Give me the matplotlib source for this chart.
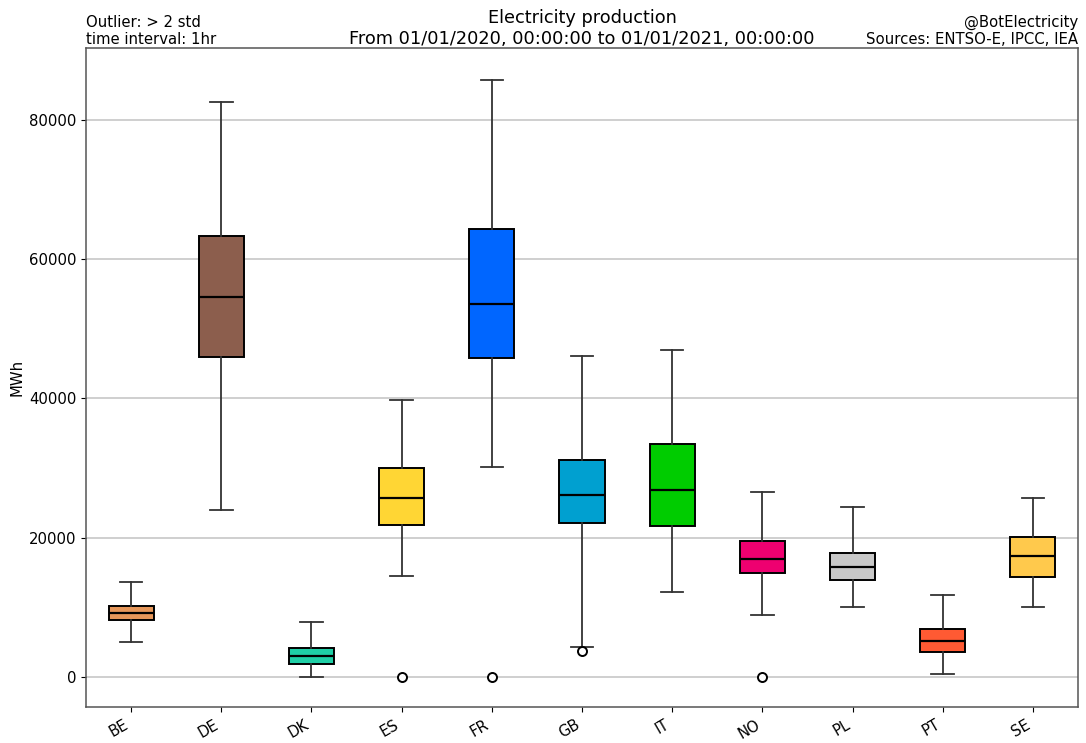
import matplotlib
matplotlib.use("Agg")
import matplotlib.pyplot as plt
import numpy as np

countries = ["BE", "DE", "DK", "ES", "FR", "GB", "IT", "NO", "PL", "PT", "SE"]
whislo = [5000, 24000, 0, 14500, 30100, 4350, 12250, 8950, 10100, 500, 10100]
q1 = [8150, 46000, 1900, 21800, 45800, 22100, 21750, 14950, 13900, 3650, 14400]
med = [9250, 54600, 2970, 25700, 53550, 26200, 26850, 16900, 15850, 5220, 17380]
q3 = [10200, 63350, 4120, 30020, 64350, 31170, 33420, 19530, 17850, 6840, 20150]
whishi = [13680, 82600, 7900, 39750, 85700, 46150, 46970, 26550, 24450, 11820, 25700]
fliers = [[], [], [], [0], [0], [3730], [], [0], [], [], []]
colors = ["#e6975a", "#8c5e4d", "#1fcfa6", "#ffd634", "#0066ff", "#00a0d0",
          "#00cc00", "#ee0070", "#c8c8c8", "#ff5a33", "#ffc94c"]

stats = []
for i, c in enumerate(countries):
    stats.append(dict(label=c, whislo=whislo[i], q1=q1[i], med=med[i],
                      q3=q3[i], whishi=whishi[i], fliers=fliers[i]))

fig = plt.figure(figsize=(10.86, 7.43), dpi=100)
ax = fig.add_axes([86/1086, 36/743, 992/1086, 659/743])

bp = ax.bxp(stats, positions=np.arange(1, len(countries) + 1), widths=0.5,
            patch_artist=True,
            boxprops=dict(edgecolor="black", linewidth=1.4),
            medianprops=dict(color="black", linewidth=1.6),
            whiskerprops=dict(color="#333333", linewidth=1.3),
            capprops=dict(color="#333333", linewidth=1.3),
            flierprops=dict(marker="o", markerfacecolor="white",
                            markeredgecolor="black", markersize=6.5,
                            markeredgewidth=1.4))
for patch, col in zip(bp["boxes"], colors):
    patch.set_facecolor(col)

ax.set_xlim(0.5, len(countries) + 0.5)
ax.set_ylim(-4300, 90300)
ax.set_yticks([0, 20000, 40000, 60000, 80000])
ax.yaxis.grid(True, color="#cccccc", linewidth=1.3)
ax.set_axisbelow(True)
ax.set_ylabel("MWh", fontsize=10.7, labelpad=3)
ax.tick_params(labelsize=10.7)
plt.setp(ax.get_xticklabels(), rotation=30, ha="right")
for sp in ax.spines.values():
    sp.set_color("#555555")
    sp.set_linewidth(1.1)

ax.set_title("Electricity production\nFrom 01/01/2020, 00:00:00 to 01/01/2021, 00:00:00",
             fontsize=12.8, loc="center", pad=4)
ax.set_title("Outlier: > 2 std\ntime interval: 1hr", fontsize=10.7, loc="left", pad=0)
ax.set_title("@BotElectricity\nSources: ENTSO-E, IPCC, IEA", fontsize=10.7, loc="right", pad=0)

fig.savefig("out.png", dpi=100)
